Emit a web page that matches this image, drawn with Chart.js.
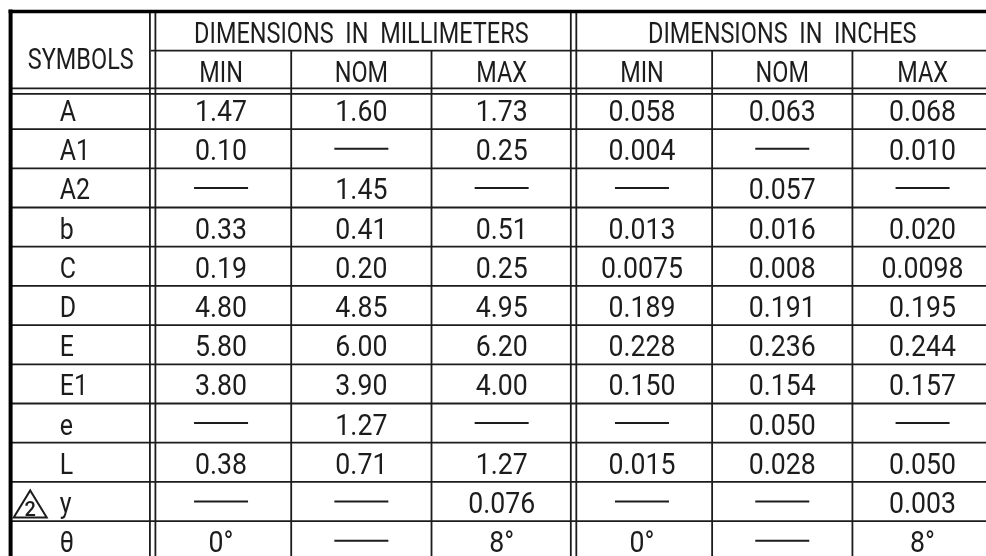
<!DOCTYPE html>
<html>
<head>
<meta charset="utf-8">
<script src="https://cdn.jsdelivr.net/npm/chart.js@4/dist/chart.umd.min.js"></script>
<style>
  html, body { margin: 0; padding: 0; background: #fff; }
  #wrap { width: 986px; height: 556px; position: relative; }
</style>
</head>
<body>
<div id="wrap"><canvas id="tabela"></canvas></div>
<script>
// ── dados da tabela (null = traço "——") ──
const symbols = ["A", "A1", "A2", "b", "C", "D", "E", "E1", "e", "L", "y", "θ"];
const symbolNotes = ["", "", "", "", "", "", "", "", "", "", "2", ""];

const mmMin = ["1.47", "0.10", null, "0.33", "0.19", "4.80", "5.80", "3.80", null, "0.38", null, "0°"];
const mmNom = ["1.60", null, "1.45", "0.41", "0.20", "4.85", "6.00", "3.90", "1.27", "0.71", null, null];
const mmMax = ["1.73", "0.25", null, "0.51", "0.25", "4.95", "6.20", "4.00", null, "1.27", "0.076", "8°"];
const inMin = ["0.058", "0.004", null, "0.013", "0.0075", "0.189", "0.228", "0.150", null, "0.015", null, "0°"];
const inNom = ["0.063", null, "0.057", "0.016", "0.008", "0.191", "0.236", "0.154", "0.050", "0.028", null, null];
const inMax = ["0.068", "0.010", null, "0.020", "0.0098", "0.195", "0.244", "0.157", null, "0.050", "0.003", "8°"];

const symbolHeader = "SYMBOLS";
const unitGroups = ["DIMENSIONS  IN  MILLIMETERS", "DIMENSIONS  IN  INCHES"];
const limitLabels = ["MIN", "NOM", "MAX"];

const valueColumns = [mmMin, mmNom, mmMax, inMin, inNom, inMax];
const HEADER_ROWS = 2;
const ROW_COUNT = HEADER_ROWS + symbols.length;

// ── monta os datasets (um ponto invisível por célula) ──
const datasets = [];

datasets.push({
  role: "symbol",
  data: symbols.map((s, i) => ({ x: 0.35, y: HEADER_ROWS + i + 0.5, text: s, note: symbolNotes[i] })),
});

valueColumns.forEach((col, c) => {
  datasets.push({
    role: "value",
    data: col.map((v, i) => ({ x: c + 1.5, y: HEADER_ROWS + i + 0.5, text: v })),
  });
});

const headerPoints = [{ x: 0.5, y: 1.17, text: symbolHeader }];
unitGroups.forEach((g, gi) => {
  headerPoints.push({ x: 1 + gi * 3 + 1.5, y: 0.5, text: g });
  limitLabels.forEach((l, k) => {
    headerPoints.push({ x: 1 + gi * 3 + k + 0.5, y: 1.5, text: l });
  });
});
datasets.push({ role: "header", data: headerPoints });

datasets.forEach((d) => {
  d.pointRadius = 0;
  d.pointHoverRadius = 0;
  d.showLine = false;
});

// ── plugin que desenha a grade e os textos ──
const FONT = "29px Roboto, 'Liberation Sans', sans-serif";
const INK = "#1c1c1c";
const SQUEEZE = { header: 0.81, symbol: 0.86, value: 0.92 };

function texto(ctx, str, x, baseline, align, sx) {
  ctx.save();
  ctx.translate(x, baseline);
  ctx.scale(sx, 1);
  ctx.textAlign = align;
  ctx.textBaseline = "alphabetic";
  ctx.fillText(str, 0, 0);
  ctx.restore();
}

const tabelaPlugin = {
  id: "tabela",
  afterDatasetsDraw(chart) {
    const ctx = chart.ctx;
    const xs = chart.scales.x;
    const ys = chart.scales.y;
    const px = (v) => xs.getPixelForValue(v);
    const py = (v) => ys.getPixelForValue(v);
    const right = chart.width + 2;
    const bottom = chart.height + 2;

    ctx.save();
    ctx.strokeStyle = INK;
    ctx.lineCap = "butt";

    const linha = (x1, y1, x2, y2, w) => {
      ctx.lineWidth = w;
      ctx.beginPath();
      ctx.moveTo(x1, y1);
      ctx.lineTo(x2, y2);
      ctx.stroke();
    };

    // linhas horizontais
    linha(px(1), py(1), right, py(1), 1.8);
    linha(px(0), py(2) - 1.5, right, py(2) - 1.5, 1.8);
    linha(px(0), py(2) + 4, right, py(2) + 4, 1.8);
    for (let r = HEADER_ROWS + 1; r < ROW_COUNT; r++) {
      linha(px(0), py(r), right, py(r), 1.8);
    }

    // linhas verticais
    [2, 3, 5, 6].forEach((c) => linha(px(c), py(1), px(c), bottom, 1.8));
    [1, 4].forEach((c) => {
      linha(px(c) - 1, py(0), px(c) - 1, bottom, 1.8);
      linha(px(c) + 4.5, py(0), px(c) + 4.5, bottom, 1.8);
    });

    // bordas grossas
    ctx.strokeStyle = "#000";
    linha(px(0), py(0) - 2, px(0), bottom, 4);
    linha(px(0) - 2, py(0), right, py(0), 3.5);

    // textos
    ctx.fillStyle = INK;
    ctx.font = FONT;
    chart.data.datasets.forEach((ds, di) => {
      const meta = chart.getDatasetMeta(di);
      meta.data.forEach((el, j) => {
        const raw = ds.data[j];
        const base = el.y + 11.5;
        if (raw.text === null) {
          ctx.strokeStyle = INK;
          linha(el.x - 27, el.y, el.x + 27, el.y, 2);
          return;
        }
        if (ds.role === "symbol") {
          texto(ctx, raw.text, el.x, base, "left", SQUEEZE.symbol);
          if (raw.note) {
            ctx.strokeStyle = INK;
            ctx.lineWidth = 2;
            ctx.beginPath();
            ctx.moveTo(el.x - 46, el.y + 16);
            ctx.lineTo(el.x - 13, el.y + 16);
            ctx.lineTo(el.x - 29.5, el.y - 11);
            ctx.closePath();
            ctx.stroke();
            ctx.save();
            ctx.font = "500 20px Roboto, sans-serif";
            ctx.textAlign = "center";
            ctx.fillText(raw.note, el.x - 29.5, el.y + 14);
            ctx.restore();
          }
        } else {
          texto(ctx, raw.text, el.x, base, "center", SQUEEZE[ds.role]);
        }
      });
    });

    ctx.restore();
  },
};

new Chart(document.getElementById("tabela"), {
  type: "scatter",
  data: { datasets },
  options: {
    responsive: true,
    maintainAspectRatio: false,
    animation: false,
    events: [],
    layout: { padding: { left: 10.6, top: 11.5, right: 0, bottom: 0 } },
    plugins: { legend: { display: false }, tooltip: { enabled: false } },
    scales: {
      x: { type: "linear", min: 0, max: 6.952, display: false },
      y: { type: "linear", min: 0, max: 13.89, reverse: true, display: false },
    },
  },
  plugins: [tabelaPlugin],
});
</script>
</body>
</html>
